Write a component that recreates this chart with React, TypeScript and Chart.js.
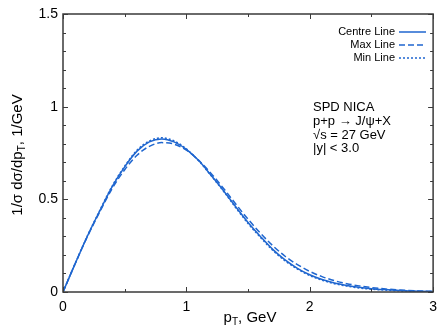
import React, { useEffect, useRef } from "react";
import { Chart, registerables } from "chart.js";
Chart.register(...registerables);

const pT = [0, 0.1, 0.2, 0.3, 0.4, 0.5, 0.6, 0.7, 0.8, 0.9, 1.0, 1.1, 1.2, 1.3, 1.4, 1.5, 1.6, 1.7, 1.8, 1.9, 2.0, 2.1, 2.2, 2.3, 2.4, 2.5, 2.6, 2.7, 2.8, 2.9, 3.0];
const centreLine = [0, 0.155, 0.305, 0.44, 0.57, 0.675, 0.76, 0.81, 0.826, 0.81, 0.77, 0.709, 0.63, 0.548, 0.46, 0.375, 0.3, 0.23, 0.173, 0.128, 0.093, 0.067, 0.048, 0.035, 0.025, 0.018, 0.013, 0.009, 0.006, 0.004, 0.003];
const maxLine = [0, 0.155, 0.302, 0.435, 0.56, 0.66, 0.738, 0.786, 0.806, 0.798, 0.765, 0.71, 0.64, 0.56, 0.475, 0.393, 0.318, 0.25, 0.193, 0.148, 0.111, 0.083, 0.061, 0.045, 0.033, 0.024, 0.017, 0.012, 0.008, 0.005, 0.003];
const minLine = [0, 0.156, 0.306, 0.443, 0.573, 0.679, 0.765, 0.815, 0.832, 0.815, 0.772, 0.708, 0.628, 0.545, 0.455, 0.37, 0.295, 0.225, 0.168, 0.124, 0.089, 0.064, 0.045, 0.032, 0.022, 0.015, 0.011, 0.007, 0.005, 0.003, 0.002];
const xTickValues = [0, 1, 2, 3];
const yTickValues = [0, 0.5, 1, 1.5];
const legendLabels = ["Centre Line", "Max Line", "Min Line"];
const infoLines = ["SPD NICA", "p+p \u2192 J/\u03c8+X", "\u221as = 27 GeV", "|y| < 3.0"];

const BLUE = "#1f66cf";
const FONT = "'Liberation Sans', Arial, sans-serif";
const dashes = [[], [6, 3], [2, 2]];

const decor = {
  id: "decor",
  afterDraw(chart: any) {
    const ctx = chart.ctx;
    const { left, right, top, bottom } = chart.chartArea;
    const xs = chart.scales.x;
    const ys = chart.scales.y;
    ctx.save();
    ctx.strokeStyle = "#3a3a3a";
    ctx.lineWidth = 1.5;
    ctx.strokeRect(left, top, right - left, bottom - top);
    ctx.lineWidth = 1;
    ctx.beginPath();
    for (let k = 0; k <= 6; k++) {
      const v = k * 0.5;
      const px = Math.round(xs.getPixelForValue(v)) + 0.5;
      const len = k % 2 === 0 ? 5 : 3;
      ctx.moveTo(px, bottom);
      ctx.lineTo(px, bottom - len);
      ctx.moveTo(px, top);
      ctx.lineTo(px, top + len);
    }
    for (let k = 0; k <= 15; k++) {
      const v = k / 10;
      const py = Math.round(ys.getPixelForValue(v)) + 0.5;
      const len = k % 5 === 0 ? 5 : 3;
      ctx.moveTo(left, py);
      ctx.lineTo(left + len, py);
      ctx.moveTo(right, py);
      ctx.lineTo(right - len, py);
    }
    ctx.stroke();

    ctx.fillStyle = "#000";
    ctx.font = `11px ${FONT}`;
    ctx.textAlign = "right";
    ctx.textBaseline = "middle";
    const ly = [32, 45, 58];
    legendLabels.forEach((lab, i) => {
      ctx.fillText(lab, 395, ly[i]);
      ctx.save();
      ctx.strokeStyle = BLUE;
      ctx.lineWidth = 1.5;
      ctx.setLineDash(dashes[i]);
      ctx.beginPath();
      ctx.moveTo(399, ly[i]);
      ctx.lineTo(426, ly[i]);
      ctx.stroke();
      ctx.restore();
    });

    ctx.font = `13px ${FONT}`;
    ctx.textAlign = "left";
    const iy = [107, 121, 135, 148];
    infoLines.forEach((t, i) => ctx.fillText(t, 313, iy[i]));

    const drawParts = (parts: [string, boolean][], cx: number, cy: number) => {
      const main = `15px ${FONT}`;
      const sub = `10px ${FONT}`;
      let total = 0;
      parts.forEach(([t, s]) => {
        ctx.font = s ? sub : main;
        total += ctx.measureText(t).width;
      });
      let x = cx - total / 2;
      ctx.textAlign = "left";
      ctx.textBaseline = "middle";
      parts.forEach(([t, s]) => {
        ctx.font = s ? sub : main;
        ctx.fillText(t, x, s ? cy + 4 : cy);
        x += ctx.measureText(t).width;
      });
    };
    ctx.fillStyle = "#000";
    drawParts([["p", false], ["T", true], [", GeV", false]], 250, 318);
    ctx.save();
    ctx.translate(18, 155);
    ctx.rotate(-Math.PI / 2);
    drawParts([["1/\u03c3 d\u03c3/dp", false], ["T", true], [", 1/GeV", false]], 0, 0);
    ctx.restore();
    ctx.restore();
  },
};

export default function App() {
  const ref = useRef<HTMLCanvasElement>(null);
  useEffect(() => {
    const mk = (arr: number[]) => pT.map((x, i) => ({ x, y: arr[i] }));
    const chart = new Chart(ref.current!, {
      type: "line",
      data: {
        datasets: [
          { label: legendLabels[0], data: mk(centreLine), borderColor: BLUE, borderWidth: 1.5, pointRadius: 0, cubicInterpolationMode: "monotone" },
          { label: legendLabels[1], data: mk(maxLine), borderColor: BLUE, borderWidth: 1.5, borderDash: [6, 3], pointRadius: 0, cubicInterpolationMode: "monotone" },
          { label: legendLabels[2], data: mk(minLine), borderColor: BLUE, borderWidth: 1.5, borderDash: [2, 2], pointRadius: 0, cubicInterpolationMode: "monotone" },
        ],
      },
      options: {
        animation: false,
        responsive: false,
        maintainAspectRatio: false,
        layout: { padding: { left: 0, right: 6, top: 14, bottom: 0 } },
        plugins: { legend: { display: false }, tooltip: { enabled: false } },
        scales: {
          x: {
            type: "linear",
            min: 0,
            max: 3,
            afterFit: (s: any) => { s.height = 35; },
            afterBuildTicks: (s: any) => { s.ticks = xTickValues.map((v) => ({ value: v })); },
            grid: { display: false, drawTicks: false },
            border: { display: false },
            ticks: { padding: 7, color: "#000", font: { family: FONT, size: 14 }, maxRotation: 0, callback: (v: any) => String(v) },
          },
          y: {
            type: "linear",
            min: 0,
            max: 1.5,
            afterFit: (s: any) => { s.width = 63; },
            afterBuildTicks: (s: any) => { s.ticks = yTickValues.map((v) => ({ value: v })); },
            grid: { display: false, drawTicks: false },
            border: { display: false },
            ticks: { padding: 5, color: "#000", font: { family: FONT, size: 14 }, callback: (v: any) => String(v) },
          },
        },
      },
      plugins: [decor],
    } as any);
    return () => chart.destroy();
  }, []);
  return (
    <div style={{ position: "fixed", left: 0, top: 0, width: 444, height: 327, background: "#fff" }}>
      <canvas ref={ref} width={444} height={327} style={{ width: 444, height: 327 }} />
    </div>
  );
}
